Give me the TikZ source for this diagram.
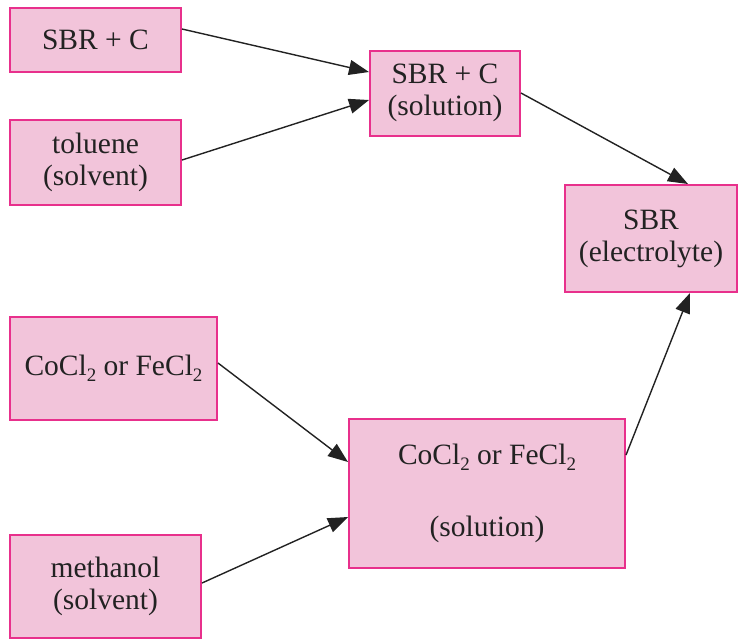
\documentclass[tikz,border=0pt]{standalone}
\usepackage{fontspec}
\setmainfont{Liberation Serif}
\usepackage{xcolor}
\usetikzlibrary{arrows.meta}
\definecolor{boxfill}{HTML}{F2C4DA}
\definecolor{boxline}{HTML}{E8308C}
\definecolor{ink}{HTML}{222222}
\newcommand\chemsub[1]{\raisebox{-3pt}{\fontsize{9.5}{9.5}\selectfont #1}}

\begin{document}
\begin{tikzpicture}[
  x=0.5pt, y=-0.5pt,
  box/.style={draw=boxline, fill=boxfill, line width=1pt, inner sep=0pt,
              align=center, text=ink, font=\fontsize{14.75}{16}\selectfont},
  fl/.style={-{Triangle[length=10pt,width=7.5pt]}, line width=0.7pt, ink}]
\useasboundingbox (0,0) rectangle (738,639);
\node[box, minimum width=85.5pt, minimum height=32pt]   (sbrc) at (95.5,40)    {SBR + C};
\node[box, minimum width=85.5pt, minimum height=42.5pt] (tol)  at (95.5,162.5) {toluene\\(solvent)};
\node[box, minimum width=75pt,   minimum height=42.5pt] (sol)  at (445,93)     {SBR + C\\(solution)};
\node[box, minimum width=86pt,   minimum height=53.5pt] (elec) at (651,238.5)  {SBR\\(electrolyte)};
\node[box, minimum width=103.5pt, minimum height=51.5pt] (salt) at (113.5,368.5) {CoCl\chemsub{2} or FeCl\chemsub{2}};
\node[box, minimum width=95.5pt, minimum height=51.5pt] (meth) at (105.5,586.5) {methanol\\(solvent)};
\node[box, minimum width=138pt,  minimum height=74.5pt] (ssol) at (487,493.5)  {CoCl\chemsub{2} or FeCl\chemsub{2}\\[20pt](solution)};
% arrows
\draw[fl] ([yshift=5.5pt]sbrc.east) -- ([yshift=10.5pt]sol.west);
\draw[fl] ([yshift=1.25pt]tol.east) -- ([yshift=-3.5pt]sol.west);
\draw[fl] (sol.east) -- ([xshift=18.5pt]elec.north);
\draw[fl] ([yshift=2.75pt]salt.east) -- ([yshift=15.75pt]ssol.west);
\draw[fl] ([yshift=1.75pt]meth.east) -- ([yshift=-11.75pt]ssol.west);
\draw[fl] ([yshift=19.25pt]ssol.east) -- ([xshift=19.5pt]elec.south);
\end{tikzpicture}
\end{document}
